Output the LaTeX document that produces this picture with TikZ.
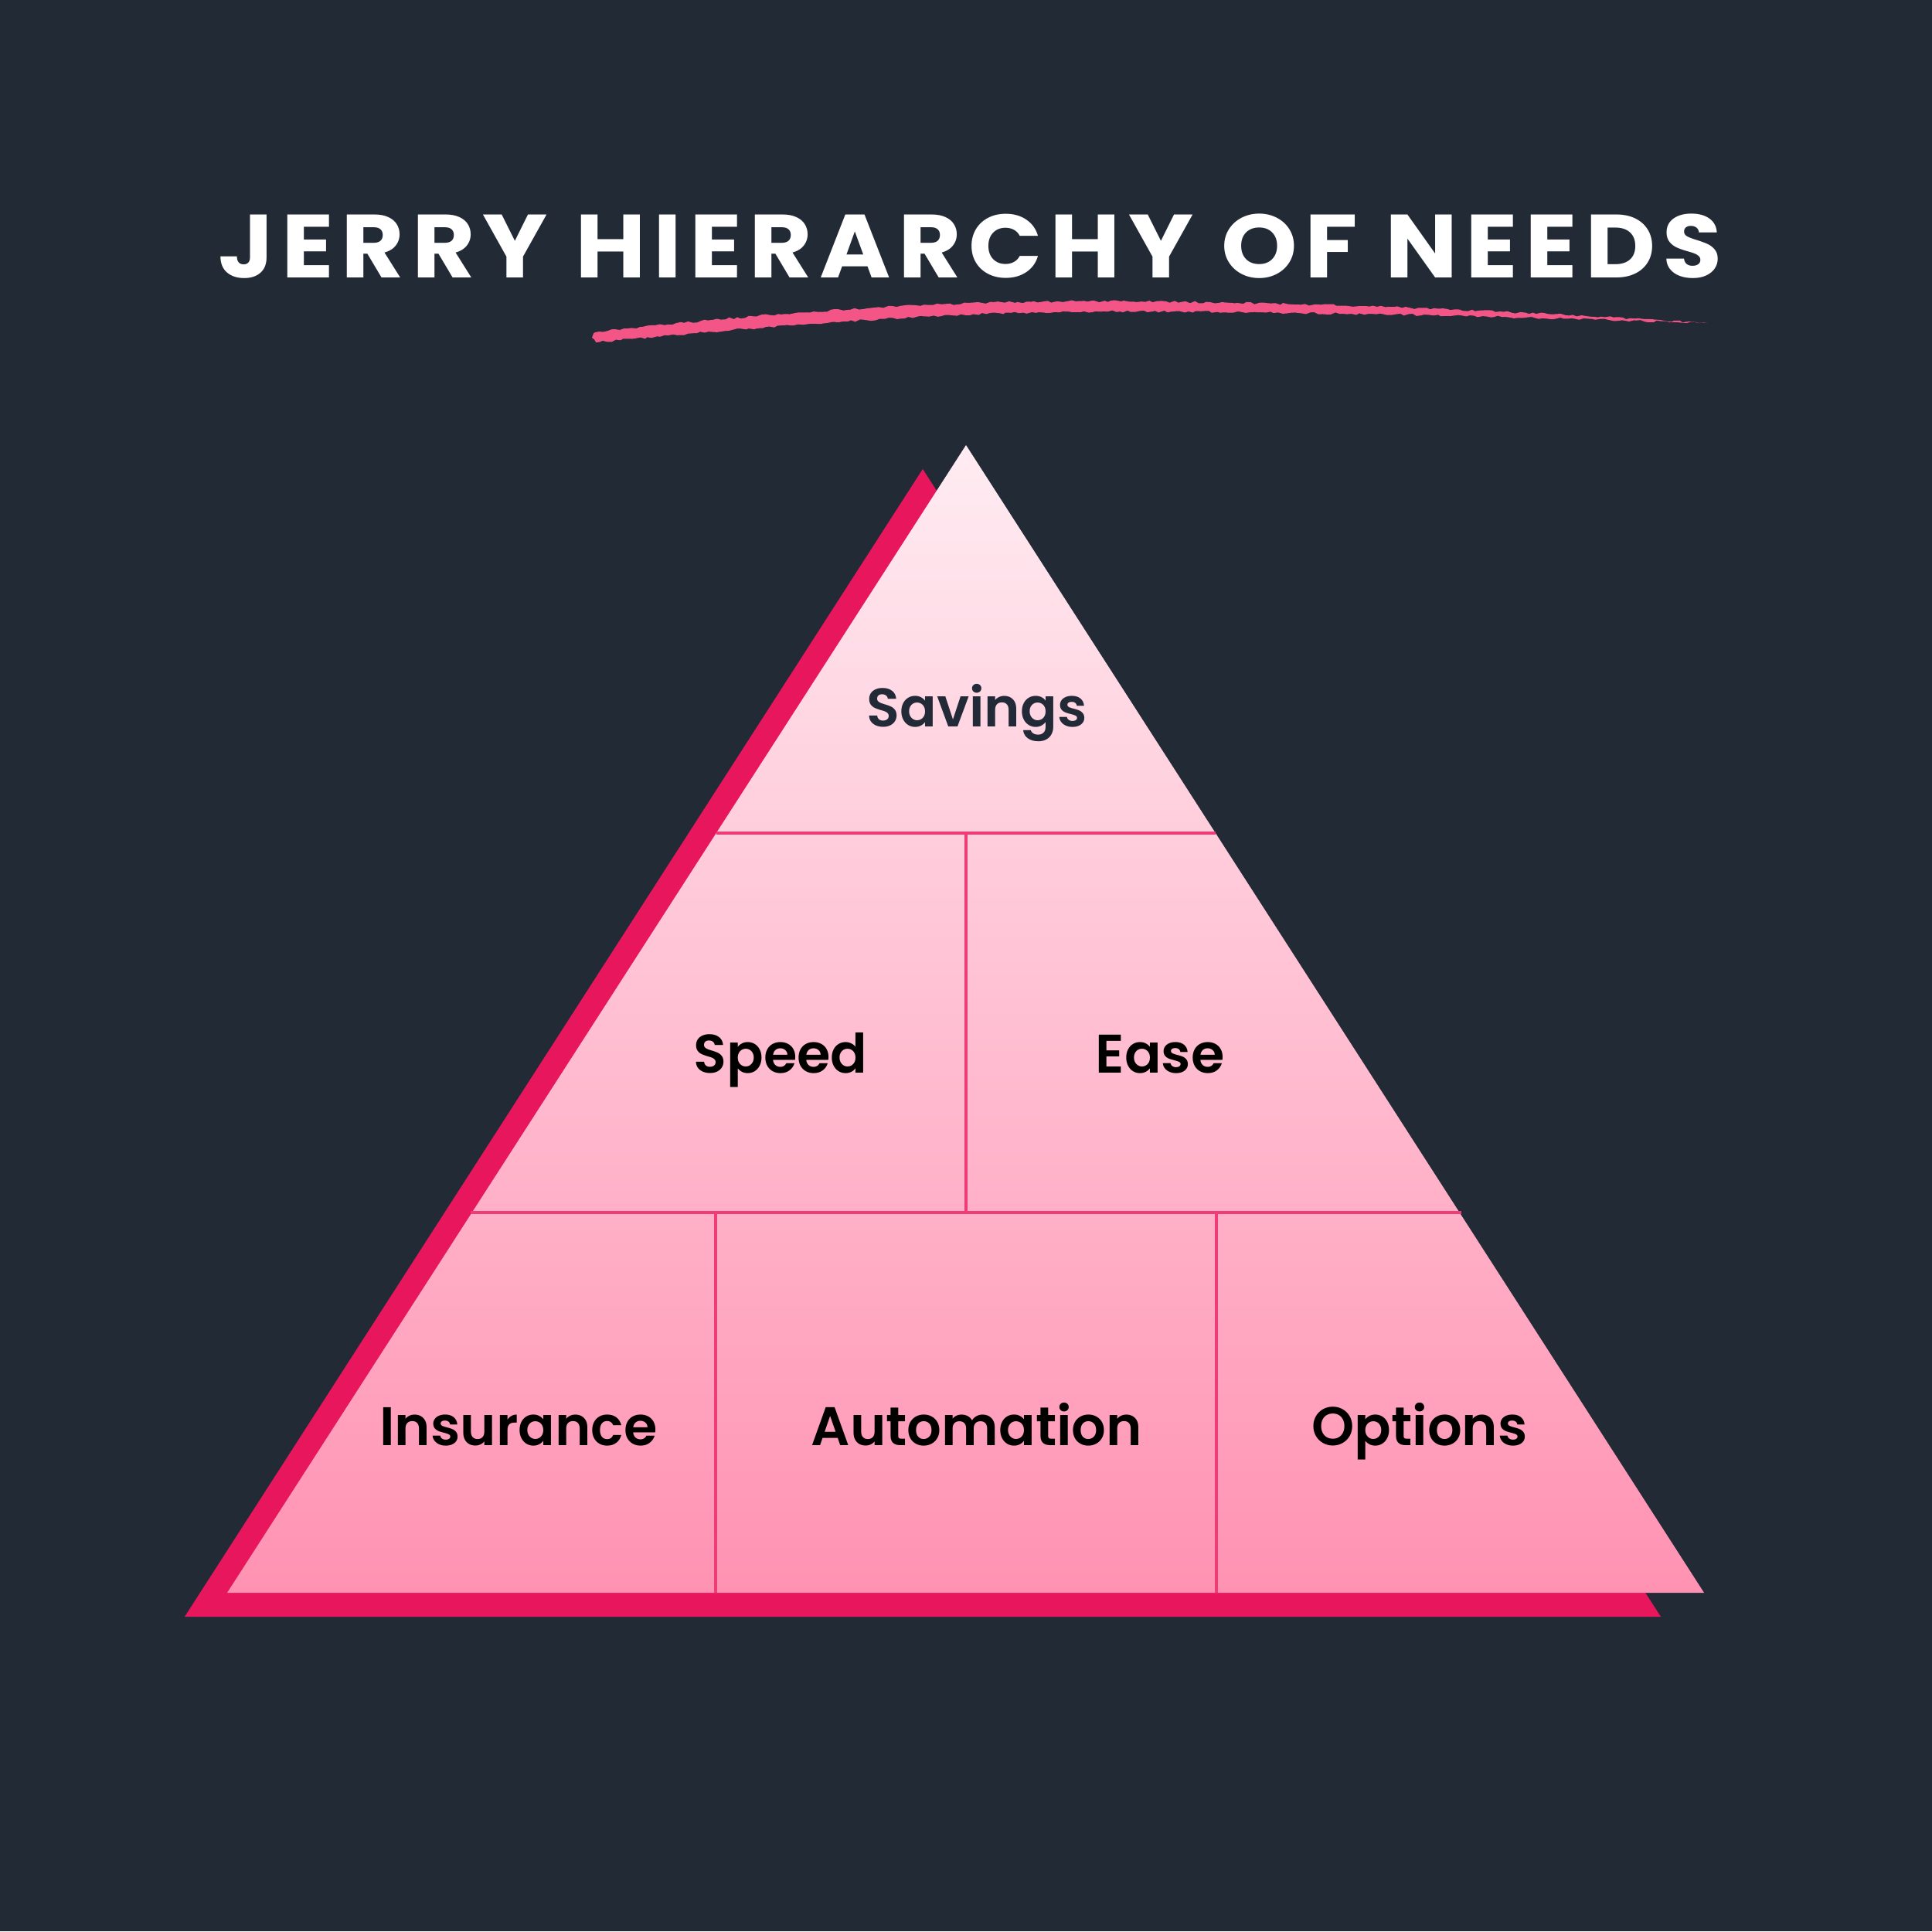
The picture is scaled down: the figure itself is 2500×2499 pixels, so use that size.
\documentclass[tikz,border=0pt]{standalone}
\usepackage{fontspec}
\usetikzlibrary{decorations.pathmorphing}
\setmainfont{Poppins}
\newfontfamily\titlefont{Poppins Bold}[LetterSpace=8.2,FakeStretch=1.08]
\newfontfamily\labelfont{Poppins SemiBold}
\definecolor{bgc}{HTML}{222A36}
\definecolor{shadowc}{HTML}{E8175D}
\definecolor{linec}{HTML}{EE3D76}
\definecolor{brushc}{HTML}{F25586}
\definecolor{topc}{HTML}{FFECF2}
\definecolor{botc}{HTML}{FF92B2}
\definecolor{darktext}{HTML}{232A37}
\tikzset{
  lbl/.style={font=\labelfont\fontsize{20}{22}\selectfont, text=black, inner sep=0pt, anchor=base},
  divider/.style={draw=linec, line width=0.9pt},
}
\pgfmathsetseed{7}
\begin{document}
\begin{tikzpicture}[x=0.01cm,y=-0.01cm]
\fill[bgc] (0,0) rectangle (2500,2499);
\useasboundingbox (0,0) rectangle (2500,2499);
% title
\node[font=\titlefont\fontsize{33}{36}\selectfont, text=white, inner sep=0pt, anchor=base west] (title) at (282,359) {JERRY HIERARCHY OF NEEDS};
% brush underline
\fill[brushc, decorate, decoration={random steps, segment length=1.5pt, amplitude=0.4pt}]
  (770,430) .. controls (1050,398) and (1250,389) .. (1450,390)
  .. controls (1750,392) and (2000,405) .. (2208,418)
  .. controls (2000,411) and (1750,404) .. (1450,403)
  .. controls (1250,403) and (1050,416) .. (772,443)
  -- (766,437) -- cycle;
% shadow triangle
\fill[shadowc] (1194,607) -- (239,2092) -- (2149,2092) -- cycle;
% main triangle
\shade[top color=topc, bottom color=botc] (1250,576) -- (294,2061) -- (2205,2061) -- cycle;
% divider coordinates
\coordinate (a1) at (927,1078);
\coordinate (a2) at (1573,1078);
\coordinate (b1) at (609,1569);
\coordinate (b2) at (1891,1569);
\coordinate (m1) at (1250,1078);
\coordinate (m2) at (1250,1569);
\coordinate (c1) at (926,1569);
\coordinate (c2) at (926,2061);
\coordinate (d1) at (1574,1569);
\coordinate (d2) at (1574,2061);
\draw[divider] (a1) -- (a2);
\draw[divider] (b1) -- (b2);
\draw[divider] (m1) -- (m2);
\draw[divider] (c1) -- (c2);
\draw[divider] (d1) -- (d2);
% labels
\node[lbl, text=darktext] (savings) at (1264,940) {Savings};
\node[lbl] (speed) at (1010,1388) {Speed};
\node[lbl] (ease) at (1501,1388) {Ease};
\node[lbl] (insurance) at (671,1870) {Insurance};
\node[lbl] (automation) at (1264,1870) {Automation};
\node[lbl] (options) at (1837,1870) {Options};
\end{tikzpicture}
\end{document}
